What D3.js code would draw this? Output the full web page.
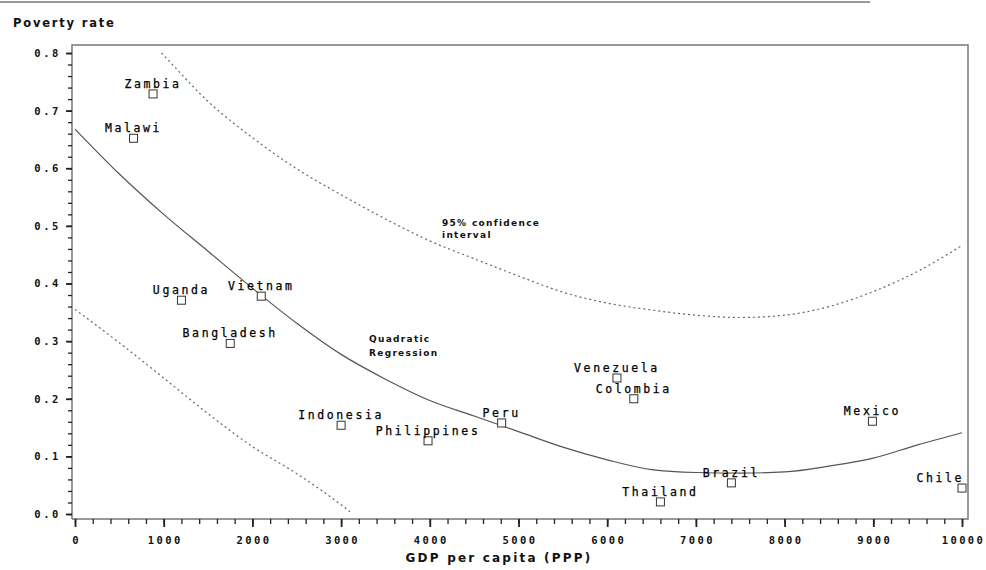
<!DOCTYPE html>
<html>
<head>
  <meta charset="utf-8">
  <title>Poverty rate vs GDP per capita</title>
  <script src="https://d3js.org/d3.v7.min.js"></script>
  <style>
    body { margin: 0; background: #fff; }
    .tick-label { font-family: "DejaVu Sans Mono", monospace; font-weight: bold; font-size: 10.5px; fill: #111; letter-spacing: 2.4px; }
    .country { font-family: "DejaVu Sans Mono", monospace; font-size: 11.5px; fill: #000; letter-spacing: 2.6px; stroke: #000; stroke-width: 0.25px; }
    .note { font-family: "DejaVu Sans", sans-serif; font-weight: bold; font-size: 9px; fill: #111; letter-spacing: 1.3px; }
    .title { font-family: "DejaVu Sans", sans-serif; font-weight: bold; font-size: 11.5px; fill: #111; }
    .minor line { stroke: #222; stroke-width: 1.3px; }
  </style>
</head>
<body>
<svg width="986" height="570"></svg>
<script>
// countries and their values
var countries = ["Zambia", "Malawi", "Uganda", "Vietnam", "Bangladesh", "Indonesia", "Philippines",
                 "Peru", "Venezuela", "Colombia", "Thailand", "Brazil", "Mexico", "Chile"];
var gdp     = [880, 660, 1200, 2100, 1750, 3000, 3980, 4810, 6110, 6300, 6600, 7400, 8990, 10000];
var poverty = [0.729, 0.652, 0.371, 0.378, 0.296, 0.154, 0.127, 0.158, 0.236, 0.200, 0.021, 0.054, 0.161, 0.045];

// quadratic regression curve
var fitX = [0, 500, 1000, 1500, 2000, 2500, 3000, 3500, 4000, 4500, 5000,
            5500, 6000, 6500, 7000, 7500, 8000, 8500, 9000, 9500, 10000];
var fitY = [0.668, 0.590, 0.520, 0.456, 0.392, 0.331, 0.277, 0.234, 0.197, 0.170, 0.143,
            0.116, 0.094, 0.077, 0.072, 0.071, 0.073, 0.083, 0.097, 0.120, 0.141];

// 95% confidence bounds
var upperX = [975, 1000, 1500, 2000, 2500, 3000, 3500, 4000, 4500, 5000,
              5500, 6000, 6500, 7000, 7500, 8000, 8500, 9000, 9500, 10000];
var upperY = [0.800, 0.796, 0.716, 0.653, 0.599, 0.554, 0.512, 0.474, 0.443, 0.413,
              0.385, 0.366, 0.354, 0.345, 0.341, 0.345, 0.360, 0.386, 0.421, 0.466];
var lowerX = [0, 500, 1000, 1500, 2000, 2500, 3000, 3100];
var lowerY = [0.355, 0.297, 0.236, 0.174, 0.117, 0.070, 0.016, 0.004];

var xTicks = [0, 1000, 2000, 3000, 4000, 5000, 6000, 7000, 8000, 9000, 10000];
var yTicks = [0, 0.1, 0.2, 0.3, 0.4, 0.5, 0.6, 0.7, 0.8];

var svg = d3.select("svg");
var x = d3.scaleLinear().domain([0, 10000]).range([75, 962]);
var y = d3.scaleLinear().domain([0, 0.8]).range([514, 53]);

var frameL = 72, frameR = 968, frameT = 45, axisY = 519;

// thin rule at the very top
svg.append("line").attr("x1", 0).attr("x2", 870).attr("y1", 2).attr("y2", 2)
  .attr("stroke", "#999").attr("stroke-width", 2);

svg.append("text").attr("class", "title").attr("x", 13).attr("y", 27)
  .style("letter-spacing", "1.8px").text("Poverty rate");

// frame
svg.append("path")
  .attr("d", "M" + frameL + "," + axisY + "V" + frameT + "H" + frameR + "V" + axisY + "H" + frameL)
  .attr("fill", "none").attr("stroke", "#777").attr("stroke-width", 1.5);

// minor ticks
svg.append("g").attr("class", "minor").attr("transform", "translate(0," + axisY + ")")
  .call(d3.axisBottom(x).tickValues(d3.range(0, 10001, 200)).tickSize(5).tickFormat(""))
  .call(function(g) { g.select(".domain").remove(); });
svg.append("g").attr("class", "minor").attr("transform", "translate(" + frameL + ",0)")
  .call(d3.axisLeft(y).tickValues(d3.range(0, 0.801, 0.02)).tickSize(4).tickFormat(""))
  .call(function(g) { g.select(".domain").remove(); });

// x axis
var xAxis = d3.axisBottom(x).tickValues(xTicks).tickSize(8).tickFormat(d3.format("d"));
var gx = svg.append("g").attr("transform", "translate(0," + axisY + ")").call(xAxis);
gx.select(".domain").remove();
gx.selectAll(".tick line").attr("stroke", "#222").attr("stroke-width", 1.8);
gx.selectAll(".tick text").attr("class", "tick-label").attr("dy", "1.35em").attr("dx", "1px");

// y axis
var yAxis = d3.axisLeft(y).tickValues(yTicks).tickSize(6).tickFormat(d3.format(".1f"));
var gy = svg.append("g").attr("transform", "translate(" + frameL + ",0)").call(yAxis);
gy.select(".domain").remove();
gy.selectAll(".tick line").attr("stroke", "#222").attr("stroke-width", 1.8);
gy.selectAll(".tick text").attr("class", "tick-label").attr("x", -11)
  .style("letter-spacing", "2.6px");

// curves
var line = d3.line().x(function(d) { return x(d[0]); }).y(function(d) { return y(d[1]); })
  .curve(d3.curveMonotoneX);

svg.append("path").datum(d3.zip(fitX, fitY)).attr("d", line)
  .attr("fill", "none").attr("stroke", "#555").attr("stroke-width", 1.2);
svg.append("path").datum(d3.zip(upperX, upperY)).attr("d", line)
  .attr("fill", "none").attr("stroke", "#666").attr("stroke-width", 1.2).attr("stroke-dasharray", "2,3");
svg.append("path").datum(d3.zip(lowerX, lowerY)).attr("d", line)
  .attr("fill", "none").attr("stroke", "#666").attr("stroke-width", 1.2).attr("stroke-dasharray", "2,3");

// annotations
svg.append("text").attr("class", "note").attr("x", 442).attr("y", 226).text("95% confidence");
svg.append("text").attr("class", "note").attr("x", 442).attr("y", 238).text("interval");
svg.append("text").attr("class", "note").attr("x", 369).attr("y", 342).text("Quadratic");
svg.append("text").attr("class", "note").attr("x", 369).attr("y", 356).text("Regression");

// points
var pts = d3.zip(countries, gdp, poverty);
svg.selectAll("rect.pt").data(pts).enter().append("rect")
  .attr("class", "pt")
  .attr("x", function(d) { return x(d[1]) - 4; })
  .attr("y", function(d) { return y(d[2]) - 4; })
  .attr("width", 8).attr("height", 8)
  .attr("fill", "#fff").attr("stroke", "#333").attr("stroke-width", 1);

svg.selectAll("text.country").data(pts).enter().append("text")
  .attr("class", "country")
  .attr("x", function(d) { return x(d[1]); })
  .attr("y", function(d) { return y(d[2]) - 6; })
  .attr("text-anchor", "middle")
  .text(function(d) { return d[0]; })
  .each(function(d) {
    var w = this.getComputedTextLength();
    var cx = x(d[1]);
    if (cx + w / 2 > frameR - 8) {
      d3.select(this).attr("text-anchor", "end").attr("x", cx + 2);
    }
  });

svg.append("text").attr("class", "title").attr("x", 499).attr("y", 562)
  .attr("text-anchor", "middle").style("font-size", "12px").style("letter-spacing", "2.2px")
  .text("GDP per capita (PPP)");
</script>
</body>
</html>
